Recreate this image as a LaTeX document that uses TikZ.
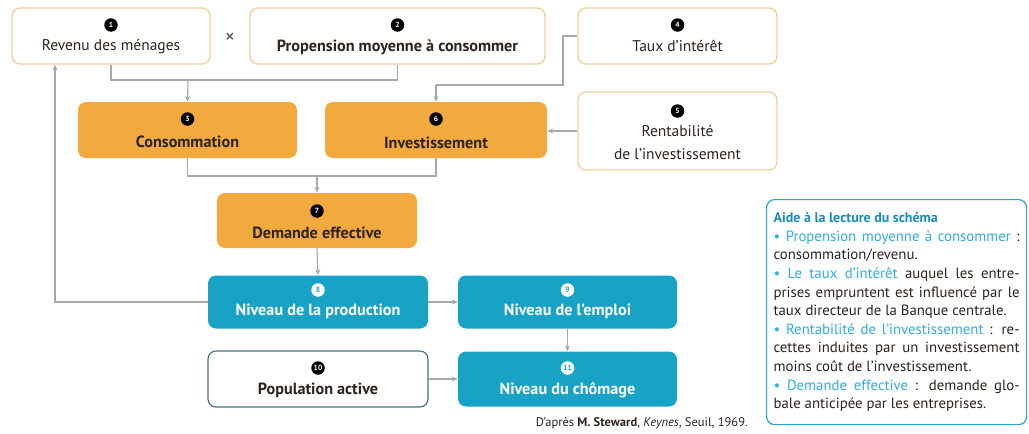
\documentclass[tikz,border=0pt]{standalone}
\usepackage{fontspec}
\setmainfont{PT Sans}
\usetikzlibrary{arrows.meta,calc}
\definecolor{orangefill}{RGB}{242,170,62}
\definecolor{beige}{RGB}{240,208,160}
\definecolor{bluefill}{RGB}{24,163,198}
\definecolor{popborder}{RGB}{70,110,122}
\definecolor{linegray}{RGB}{168,168,172}
\definecolor{legendblue}{RGB}{40,165,200}
\definecolor{titleblue}{RGB}{25,140,185}
\definecolor{termblue}{RGB}{50,172,222}
\definecolor{darktext}{RGB}{45,35,30}
\begin{document}
\begin{tikzpicture}[x=1pt,y=-1pt,
  boxbase/.style={rounded corners=8pt, inner sep=0pt},
  topbox/.style={boxbase, draw=beige, line width=1.3pt, fill=white},
  orangebox/.style={boxbase, fill=orangefill},
  bluebox/.style={boxbase, fill=bluefill},
  popbox/.style={boxbase, draw=popborder, line width=1.1pt, fill=white},
  lbl/.style={inner sep=0pt, text=darktext, font=\fontsize{15.5}{17}\selectfont},
  blbl/.style={lbl, font=\fontsize{16.2}{18}\selectfont\bfseries},
  wlbl/.style={inner sep=0pt, text=white, font=\fontsize{16.2}{18}\selectfont\bfseries},
  numb/.style={circle, fill=black, text=white, inner sep=0pt, minimum size=13.5pt, font=\fontsize{7.5}{7.5}\selectfont\bfseries},
  numw/.style={circle, fill=white, text=bluefill, inner sep=0pt, minimum size=13.5pt, font=\fontsize{7.5}{7.5}\selectfont\bfseries},
  conn/.style={draw=linegray, line width=1.1pt},
  arr/.style={conn, -{Stealth[length=6pt,width=5pt]}}
]
\useasboundingbox (0,0) rectangle (1029,434);

% top row
\node[topbox, minimum width=198pt, minimum height=56pt] (b1) at (111,36) {};
\node[numb] (n1) at (111,25) {1};
\node[lbl] (t1) at (111,47) {Revenu des ménages};
\node[inner sep=0pt, font=\fontsize{20}{20}\selectfont, text=darktext!80] (times) at (230,38) {×};
\node[topbox, minimum width=295pt, minimum height=56pt] (b2) at (397.5,36) {};
\node[numb] (n2) at (397.5,25) {2};
\node[blbl] (t2) at (397.5,47) {Propension moyenne à consommer};
\node[topbox, minimum width=199pt, minimum height=56pt] (b4) at (677.5,36) {};
\node[numb] (n4) at (677.5,25) {4};
\node[lbl] (t4) at (677.5,46) {Taux d'intérêt};

% second row
\node[orangebox, minimum width=219pt, minimum height=56pt] (b3) at (187.5,130) {};
\node[numb] (n3) at (187.5,119) {3};
\node[blbl] (t3) at (187.5,142) {Consommation};
\node[orangebox, minimum width=222pt, minimum height=56pt] (b6) at (436,130) {};
\node[numb] (n6) at (436,119) {6};
\node[blbl] (t6) at (436,143) {Investissement};
\node[topbox, minimum width=199pt, minimum height=78pt] (b5) at (677.5,131) {};
\node[numb] (n5) at (677.5,111) {5};
\node[lbl, align=center, font=\fontsize{15.5}{23}\selectfont] (t5) at (677.5,143) {Rentabilité\\de l'investissement};

% demande
\node[orangebox, minimum width=200pt, minimum height=55pt] (b7) at (317,220.5) {};
\node[numb] (n7) at (317,211) {7};
\node[blbl] (t7) at (317,233) {Demande effective};

% blue rows
\node[bluebox, minimum width=220pt, minimum height=53pt] (b8) at (318,302) {};
\node[numw] (n8) at (318,290) {8};
\node[wlbl] (t8) at (318,311) {Niveau de la production};
\node[bluebox, minimum width=219pt, minimum height=53pt] (b9) at (567.5,302) {};
\node[numw] (n9) at (567.5,290) {9};
\node[wlbl] (t9) at (567.5,311) {Niveau de l'emploi};
\node[popbox, minimum width=220pt, minimum height=56pt] (b10) at (318,379) {};
\node[numb] (n10) at (318,368) {10};
\node[blbl] (t10) at (318,390) {Population active};
\node[bluebox, minimum width=219pt, minimum height=55pt] (b11) at (567.5,379) {};
\node[numw] (n11) at (567.5,368) {11};
\node[wlbl] (t11) at (567.5,390) {Niveau du chômage};

% connectors
\coordinate (j1) at (188,80);
\coordinate (j2) at (436,85);
\coordinate (k2) at (563,85);
\coordinate (j3) at (317,176);
\coordinate (fb) at (55,302);
\draw[conn] (b1.south) |- (j1) -| (b2.south);
\draw[arr] (j1) -- (b3.north);
\draw[conn] (b4.west) -| (k2) -- (j2);
\draw[arr] (j2) -- (b6.north);
\draw[arr] (b5.west) -- (b5.west -| b6.east);
\draw[conn] (b3.south) |- (j3) -| (b6.south);
\draw[arr] (j3) -- (b7.north);
\draw[arr] (b7.south) -- (b8.north);
\draw[arr] (b8.west) -- (fb) -- (fb |- b1.south);
\draw[arr] (b8.east) -- (b9.west);
\draw[arr] (b9.south) -- (b11.north);
\draw[arr] (b10.east) -- (b11.west);

% source
\node[inner sep=0pt, anchor=east, text=darktext, font=\fontsize{12.5}{14}\selectfont] (src) at (748,423) {D'après \textbf{M. Steward}, \textit{Keynes}, Seuil, 1969.};

% legend
\node[draw=legendblue, line width=1.2pt, rounded corners=8pt, fill=white, anchor=north west,
      text width=246pt, inner xsep=7pt, inner ysep=13pt, align=justify, text=darktext,
      font=\fontsize{14.8}{18.6}\selectfont] (leg) at (766,199)
{{\color{titleblue}\fontsize{14}{18.6}\selectfont\bfseries Aide à la lecture du schéma}\par
{\color{termblue}• Propension moyenne à consommer} :\linebreak
consommation/revenu.\par
{\color{termblue}• Le taux d'intérêt} auquel les entre-\linebreak
prises empruntent est influencé par le\linebreak
taux directeur de la Banque centrale.\par
{\color{termblue}• Rentabilité de l'investissement} : re-\linebreak
cettes induites par un investissement\linebreak
moins coût de l'investissement.\par
{\color{termblue}• Demande effective} : demande glo-\linebreak
bale anticipée par les entreprises.};
\end{tikzpicture}
\end{document}
